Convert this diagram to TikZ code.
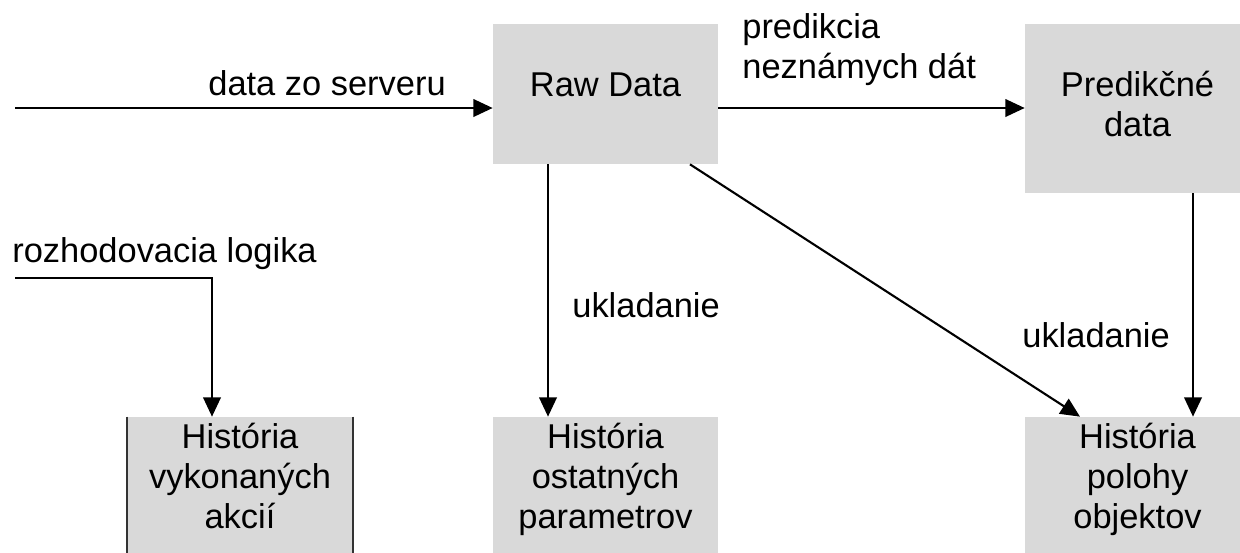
\documentclass[tikz,border=0pt]{standalone}
\usepackage{fontspec}
\setmainfont{Liberation Sans}
\usetikzlibrary{arrows.meta,calc}
\definecolor{boxgray}{RGB}{217,217,217}
\tikzset{
	box/.style={fill=boxgray, minimum width=4.5cm, minimum height=2.8cm, inner sep=0pt, align=center, text height=13.7pt},
	flow/.style={draw=black, line width=1.2pt, -{Triangle[length=11pt,width=10pt]}},
	lbl/.style={inner sep=0pt, anchor=base west, align=left},
}
\begin{document}
\begin{tikzpicture}[x=0.02cm, y=-0.02cm, font=\fontsize{19.6pt}{22.6pt}\selectfont]
			\useasboundingbox (0,0) rectangle (1240,552);
			\clip (0,0) rectangle (1240,552);
			% Boxes
			\node[box, text depth=11.4pt] (raw) at (605.5,94) {Raw Data};
			\node[box, minimum height=3.38cm, text height=31.3pt, text depth=0pt] (pred) at (1137.5,108.5) {Predikčné\\data};
			\foreach \name/\x/\txt in {hist1/240/{História\\vykonaných\\akcií},hist2/605.5/{História\\ostatných\\parametrov},hist3/1137.5/{História\\polohy\\objektov}} {
					\node[box, text height=46.7pt, text depth=0pt] (\name) at (\x,487) {\txt};
				}
			\draw[black!80, line width=1pt] (hist1.north west) -- (hist1.south west) (hist1.north east) -- (hist1.south east);
			% Labels
			\node[lbl] (lserver) at (208,95) {data zo serveru};
			\node[lbl] (lpred) at (742,78) {predikcia\\neznámych dát};
			\node[lbl] (llogic) at (12,262) {rozhodovacia logika};
			\node[lbl] (lstore) at (572,317) {ukladanie};
			\node[lbl] (lstorepos) at (1022,347) {ukladanie};
			% Edges
			\coordinate (server) at (15,108);
			\coordinate (logic) at (15,278);
			\draw[flow] (server) -- (server -| raw.west);
			\draw[flow] (raw.east |- server) -- (pred.west |- server);
			\draw[flow] (logic) -| ($(hist1.north)+(-28,0)$);
			\draw[flow] ($(raw.south)+(-57.5,0)$) -- ($(hist2.north)+(-57.5,0)$);
			\draw[flow] ($(raw.south)+(84.5,0)$) -- ($(hist3.north)+(-57.5,0)$);
			\draw[flow] ($(pred.south)+(55.5,0)$) -- ($(hist3.north)+(55.5,0)$);
		\end{tikzpicture}
\end{document}
